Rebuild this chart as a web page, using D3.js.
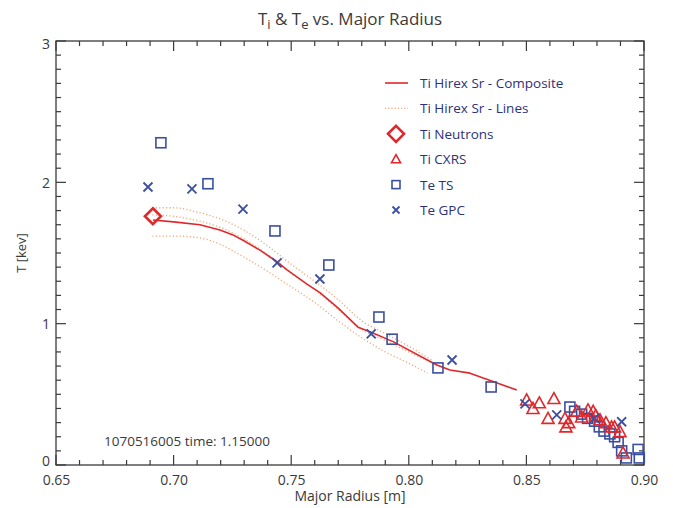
<!DOCTYPE html>
<html><head><meta charset="utf-8">
<script src="https://cdn.jsdelivr.net/npm/d3@7"></script>
<style>body{margin:0;background:#fff}svg{display:block}text{font-family:"Open Sans",sans-serif}</style>
</head><body><svg id="c" width="673" height="508"></svg>
<script>
const xTicks=[0.65,0.70,0.75,0.80,0.85,0.90];
const xTickLabels=["0.65","0.70","0.75","0.80","0.85","0.90"];
const yTicks=[0,1,2,3];
const yTickLabels=["0","1","2","3"];

const hirexComposite=[[0.6912,1.734],[0.70,1.72],[0.7112,1.70],[0.7197,1.663],[0.7250,1.63],[0.7295,1.59],[0.7367,1.52],[0.7438,1.44],[0.7482,1.38],[0.7567,1.28],[0.7622,1.22],[0.77,1.11],[0.7784,0.975],[0.7835,0.943],[0.7933,0.873],[0.8119,0.708],[0.8175,0.672],[0.826,0.65],[0.8358,0.59],[0.8459,0.531]];
const hirexUpper=[[0.691,1.82],[0.70,1.82],[0.71,1.79],[0.72,1.74],[0.73,1.66],[0.74,1.55],[0.75,1.42],[0.76,1.30],[0.77,1.17],[0.78,1.02],[0.79,0.93],[0.80,0.84],[0.81,0.74]];
const hirexMid=[[0.691,1.77],[0.70,1.76],[0.71,1.73],[0.72,1.68],[0.73,1.60],[0.74,1.49],[0.75,1.36],[0.76,1.24],[0.77,1.10],[0.78,0.96],[0.79,0.88],[0.80,0.80],[0.81,0.72]];
const hirexLower=[[0.691,1.62],[0.70,1.62],[0.71,1.61],[0.72,1.56],[0.73,1.47],[0.74,1.37],[0.75,1.26],[0.76,1.15],[0.77,1.02],[0.78,0.90],[0.79,0.80],[0.80,0.72],[0.808,0.65]];
const tiNeutrons=[[0.6912,1.76]];
const tiCXRS=[[0.8501,0.46],[0.8528,0.40],[0.8555,0.44],[0.8617,0.47],[0.8592,0.33],[0.8664,0.33],[0.8668,0.27],[0.8680,0.30],[0.8714,0.38],[0.8735,0.34],[0.8762,0.39],[0.8784,0.38],[0.8795,0.35],[0.8813,0.32],[0.8838,0.30],[0.8862,0.27],[0.8875,0.27],[0.8898,0.236],[0.8911,0.085]];
const teTS=[[0.6946,2.28],[0.7146,1.99],[0.7431,1.656],[0.766,1.415],[0.7873,1.047],[0.7929,0.89],[0.8124,0.687],[0.835,0.552],[0.8685,0.41],[0.8705,0.38],[0.8735,0.36],[0.8760,0.33],[0.8790,0.31],[0.8810,0.27],[0.8830,0.24],[0.8855,0.22],[0.8875,0.20],[0.8890,0.16],[0.8905,0.10],[0.8925,0.05],[0.8975,0.11],[0.8980,0.05]];
const teGPC=[[0.6891,1.967],[0.7078,1.953],[0.7295,1.81],[0.744,1.43],[0.7622,1.316],[0.784,0.927],[0.8184,0.743],[0.8494,0.432],[0.8629,0.354],[0.879,0.33],[0.8905,0.306]];

const legendLabels=["Ti Hirex Sr - Composite","Ti Hirex Sr - Lines","Ti Neutrons","Ti CXRS","Te TS","Te GPC"];

const RED="#e0282c", BLUE="#3b4fa0", DOT="#f0a878", AX="#3a3a3a", TXT="#2e3177";
const L=56,R=644,T=41,B=465;
const svg=d3.select("#c");
const x=d3.scaleLinear().domain([0.65,0.90]).range([L,R]);
const y=d3.scaleLinear().domain([0,3]).range([B,T]);

svg.append("rect").attr("x",L).attr("y",T).attr("width",R-L).attr("height",B-T).attr("fill","none").attr("stroke",AX).attr("stroke-width",1.3);

const xMinor=d3.range(0,26).map(i=>0.65+i*0.01);
const yMinor=d3.range(0,31).map(i=>i*0.1);
const g=svg.append("g");
xMinor.forEach((v,i)=>{const len=(i%5===0)?10:5;
 g.append("line").attr("x1",x(v)).attr("x2",x(v)).attr("y1",B).attr("y2",B-len).attr("stroke",AX).attr("stroke-width",1.2);
 g.append("line").attr("x1",x(v)).attr("x2",x(v)).attr("y1",T).attr("y2",T+len).attr("stroke",AX).attr("stroke-width",1.2);});
yMinor.forEach((v,i)=>{const len=(i%10===0)?10:5;
 g.append("line").attr("y1",y(v)).attr("y2",y(v)).attr("x1",L).attr("x2",L+len).attr("stroke",AX).attr("stroke-width",1.2);
 g.append("line").attr("y1",y(v)).attr("y2",y(v)).attr("x1",R).attr("x2",R-len).attr("stroke",AX).attr("stroke-width",1.2);});

const xa=svg.append("g").attr("transform",`translate(0,${B})`).call(d3.axisBottom(x).tickValues(xTicks).tickSize(0).tickPadding(10).tickFormat((d,i)=>xTickLabels[i]));
xa.select(".domain").remove();
xa.selectAll("text").attr("font-size",14).attr("fill",AX).attr("font-family","Open Sans");
const ya=svg.append("g").attr("transform",`translate(${L},0)`).call(d3.axisLeft(y).tickValues(yTicks).tickSize(0).tickPadding(6).tickFormat((d,i)=>yTickLabels[i]));
ya.select(".domain").remove();
ya.selectAll("text").attr("font-size",14).attr("fill",AX).attr("font-family","Open Sans")
  .attr("dy",d=>d===0?"0.0em":(d===3?"0.55em":"0.36em"));

const tt=svg.append("text").attr("x",350).attr("y",25).attr("text-anchor","middle").attr("font-size",17).attr("fill",AX);
tt.append("tspan").text("T");
tt.append("tspan").attr("dy",4).attr("font-size",13).text("i");
tt.append("tspan").attr("dy",-4).text(" & T");
tt.append("tspan").attr("dy",4).attr("font-size",13).text("e");
tt.append("tspan").attr("dy",-4).text(" vs. Major Radius");
svg.append("text").attr("x",350).attr("y",501).attr("text-anchor","middle").attr("font-size",14).attr("fill",AX).text("Major Radius [m]");
svg.append("text").attr("transform","translate(26,253) rotate(-90)").attr("text-anchor","middle").attr("font-size",13).attr("fill",AX).text("T [kev]");
svg.append("text").attr("x",104).attr("y",446).attr("font-size",13.5).attr("fill",AX).text("1070516005 time: 1.15000");

const smooth=d3.line().x(d=>x(d[0])).y(d=>y(d[1])).curve(d3.curveMonotoneX);
const lin=d3.line().x(d=>x(d[0])).y(d=>y(d[1]));
[hirexUpper,hirexMid,hirexLower].forEach(s=>svg.append("path").attr("d",smooth(s)).attr("fill","none").attr("stroke",DOT).attr("stroke-width",1.3).attr("stroke-dasharray","1.2,2.2"));
svg.append("path").attr("d",lin(hirexComposite)).attr("fill","none").attr("stroke",RED).attr("stroke-width",1.6).attr("stroke-linejoin","round");

const sq=(sel,cx,cy)=>sel.append("rect").attr("x",cx-5).attr("y",cy-5).attr("width",10).attr("height",10).attr("fill","none").attr("stroke",BLUE).attr("stroke-width",1.6);
const cross=(sel,cx,cy)=>sel.append("path").attr("d",`M${cx-4.5},${cy-4.5}L${cx+4.5},${cy+4.5}M${cx-4.5},${cy+4.5}L${cx+4.5},${cy-4.5}`).attr("stroke",BLUE).attr("stroke-width",1.8).attr("fill","none");
const tri=(sel,cx,cy)=>sel.append("path").attr("d",`M${cx},${cy-6}L${cx+6},${cy+5}L${cx-6},${cy+5}Z`).attr("fill","none").attr("stroke",RED).attr("stroke-width",1.6);
const dia=(sel,cx,cy)=>sel.append("path").attr("d",`M${cx},${cy-8}L${cx+8},${cy}L${cx},${cy+8}L${cx-8},${cy}Z`).attr("fill","none").attr("stroke",RED).attr("stroke-width",2.6);

const mk=svg.append("g");
teTS.forEach(d=>sq(mk,x(d[0]),y(d[1])));
tiCXRS.forEach(d=>tri(mk,x(d[0]),y(d[1])));
teGPC.forEach(d=>cross(mk,x(d[0]),y(d[1])));
tiNeutrons.forEach(d=>dia(mk,x(d[0]),y(d[1])));

const lg=svg.append("g");
const ly0=83, ldy=25.4, lx=396, ltx=420;
legendLabels.forEach((t,i)=>{
 const yy=ly0+i*ldy;
 if(i===0) lg.append("line").attr("x1",385).attr("x2",408).attr("y1",yy).attr("y2",yy).attr("stroke",RED).attr("stroke-width",1.6);
 if(i===1) lg.append("line").attr("x1",385).attr("x2",408).attr("y1",yy).attr("y2",yy).attr("stroke",DOT).attr("stroke-width",1.2).attr("stroke-dasharray","1.2,2");
 if(i===2) dia(lg,lx,yy);
 if(i===3) lg.append("path").attr("d",`M${lx},${yy-4.5}L${lx+4.5},${yy+3.5}L${lx-4.5},${yy+3.5}Z`).attr("fill","none").attr("stroke",RED).attr("stroke-width",1.6);
 if(i===4) lg.append("rect").attr("x",lx-4).attr("y",yy-4).attr("width",8).attr("height",8).attr("fill","none").attr("stroke",BLUE).attr("stroke-width",1.6);
 if(i===5) lg.append("path").attr("d",`M${lx-3.5},${yy-3.5}L${lx+3.5},${yy+3.5}M${lx-3.5},${yy+3.5}L${lx+3.5},${yy-3.5}`).attr("stroke",BLUE).attr("stroke-width",1.8);
 lg.append("text").attr("x",ltx).attr("y",yy+5).attr("font-size",13.5).attr("fill",TXT).text(t);
});
</script></body></html>
